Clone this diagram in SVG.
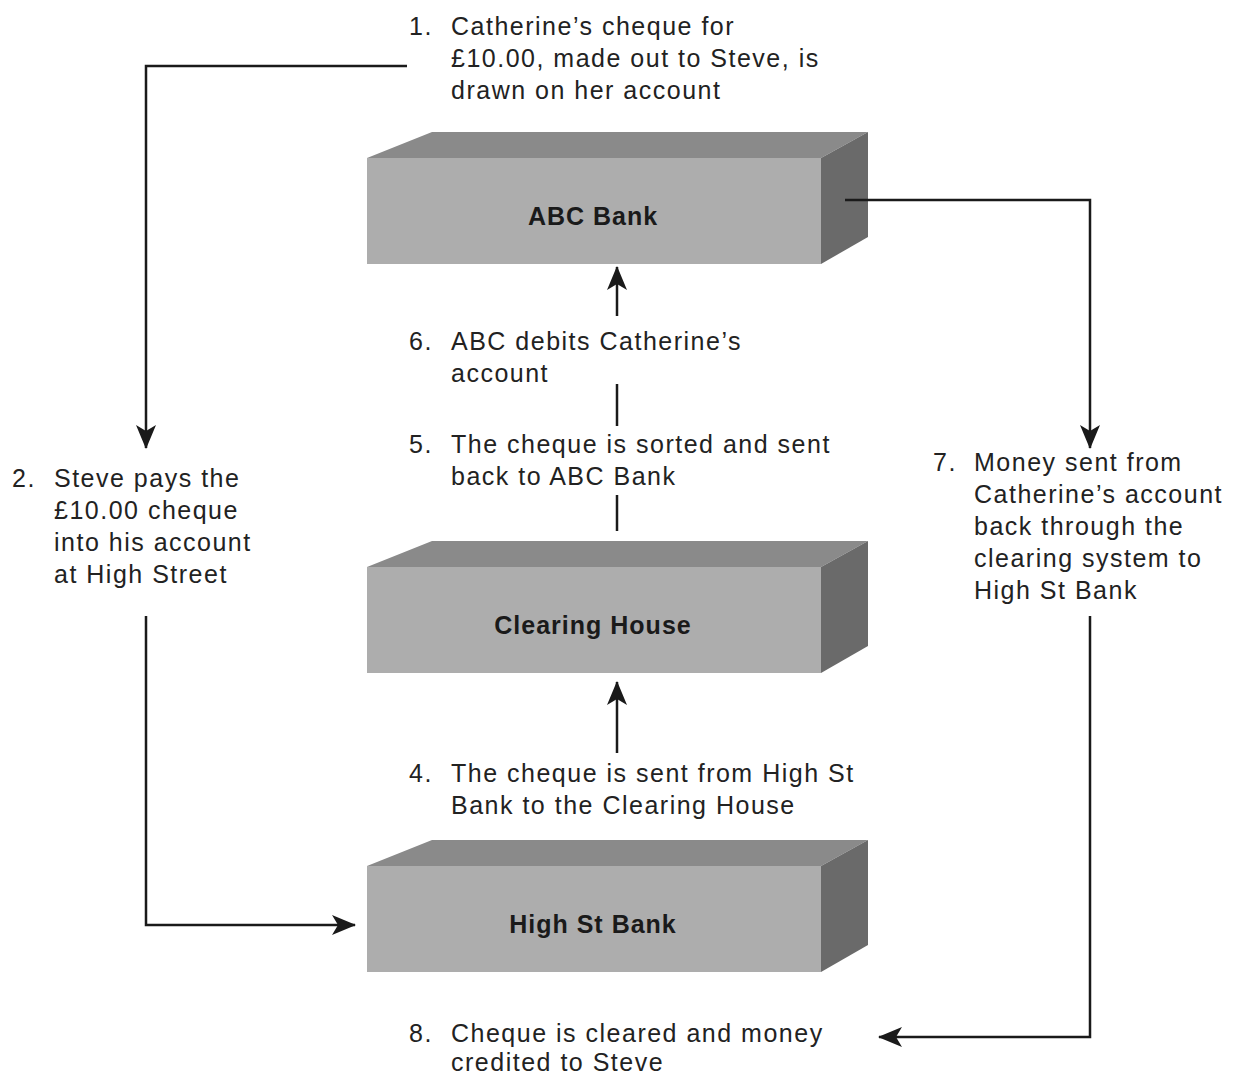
<svg xmlns="http://www.w3.org/2000/svg" width="1235" height="1077" viewBox="0 0 1235 1077">
<defs>
<style>
.t{font-family:"Liberation Sans",Arial,sans-serif;font-size:25px;letter-spacing:1.5px;fill:#222;}
.n{font-family:"Liberation Sans",Arial,sans-serif;font-size:25px;font-weight:bold;letter-spacing:1px;fill:#1a1a1a;text-anchor:middle;}
.front{fill:#adadad;}
.top{fill:#8a8a8a;}
.side{fill:#6a6a6a;}
.c{fill:none;stroke:#1a1a1a;stroke-width:2.5;}
</style>
<marker id="ah" viewBox="0 0 24 20" refX="23" refY="10" markerWidth="24" markerHeight="20" markerUnits="userSpaceOnUse" orient="auto">
<path d="M0,0 L24,10 L0,20 L6,10 Z" fill="#1a1a1a"/>
</marker>
</defs>
<rect width="1235" height="1077" fill="#fff"/>
<g id="abc-bank">
<polygon class="top" points="367,158 432,132 868,132 821,158"/>
<polygon class="side" points="821,158 868,132 868,237 821,264"/>
<rect class="front" x="367" y="158" width="454" height="106"/>
<text class="n" x="593" y="225">ABC Bank</text>
</g>
<g id="clearing-house">
<polygon class="top" points="367,567 432,541 868,541 821,567"/>
<polygon class="side" points="821,567 868,541 868,646 821,673"/>
<rect class="front" x="367" y="567" width="454" height="106"/>
<text class="n" x="593" y="634">Clearing House</text>
</g>
<g id="high-st-bank">
<polygon class="top" points="367,866 432,840 868,840 821,866"/>
<polygon class="side" points="821,866 868,840 868,945 821,972"/>
<rect class="front" x="367" y="866" width="454" height="106"/>
<text class="n" x="593" y="933">High St Bank</text>
</g>
<g id="connectors">
<polyline class="c" points="407,66 146,66 146,448" marker-end="url(#ah)"/>
<polyline class="c" points="146,616 146,925 355,925" marker-end="url(#ah)"/>
<polyline class="c" points="845,200 1090,200 1090,448" marker-end="url(#ah)"/>
<polyline class="c" points="1090,616 1090,1037 879,1037" marker-end="url(#ah)"/>
<line class="c" x1="617" y1="316" x2="617" y2="267" marker-end="url(#ah)"/>
<line class="c" x1="617" y1="384" x2="617" y2="426"/>
<line class="c" x1="617" y1="495" x2="617" y2="531"/>
<line class="c" x1="617" y1="753" x2="617" y2="682" marker-end="url(#ah)"/>
</g>
<g id="label-1">
<text class="t" x="409" y="35">1.</text>
<text class="t" x="451" y="35">Catherine’s cheque for</text>
<text class="t" x="451" y="67">£10.00, made out to Steve, is</text>
<text class="t" x="451" y="99">drawn on her account</text>
</g>
<g id="label-2">
<text class="t" x="12" y="487">2.</text>
<text class="t" x="54" y="487">Steve pays the</text>
<text class="t" x="54" y="519">£10.00 cheque</text>
<text class="t" x="54" y="551">into his account</text>
<text class="t" x="54" y="583">at High Street</text>
</g>
<g id="label-6">
<text class="t" x="409" y="350">6.</text>
<text class="t" x="451" y="350">ABC debits Catherine’s</text>
<text class="t" x="451" y="382">account</text>
</g>
<g id="label-5">
<text class="t" x="409" y="453">5.</text>
<text class="t" x="451" y="453">The cheque is sorted and sent</text>
<text class="t" x="451" y="485">back to ABC Bank</text>
</g>
<g id="label-7">
<text class="t" x="933" y="471">7.</text>
<text class="t" x="974" y="471">Money sent from</text>
<text class="t" x="974" y="503">Catherine’s account</text>
<text class="t" x="974" y="535">back through the</text>
<text class="t" x="974" y="567">clearing system to</text>
<text class="t" x="974" y="599">High St Bank</text>
</g>
<g id="label-4">
<text class="t" x="409" y="782">4.</text>
<text class="t" x="451" y="782">The cheque is sent from High St</text>
<text class="t" x="451" y="814">Bank to the Clearing House</text>
</g>
<g id="label-8">
<text class="t" x="409" y="1042">8.</text>
<text class="t" x="451" y="1042">Cheque is cleared and money</text>
<text class="t" x="451" y="1071">credited to Steve</text>
</g>
</svg>
